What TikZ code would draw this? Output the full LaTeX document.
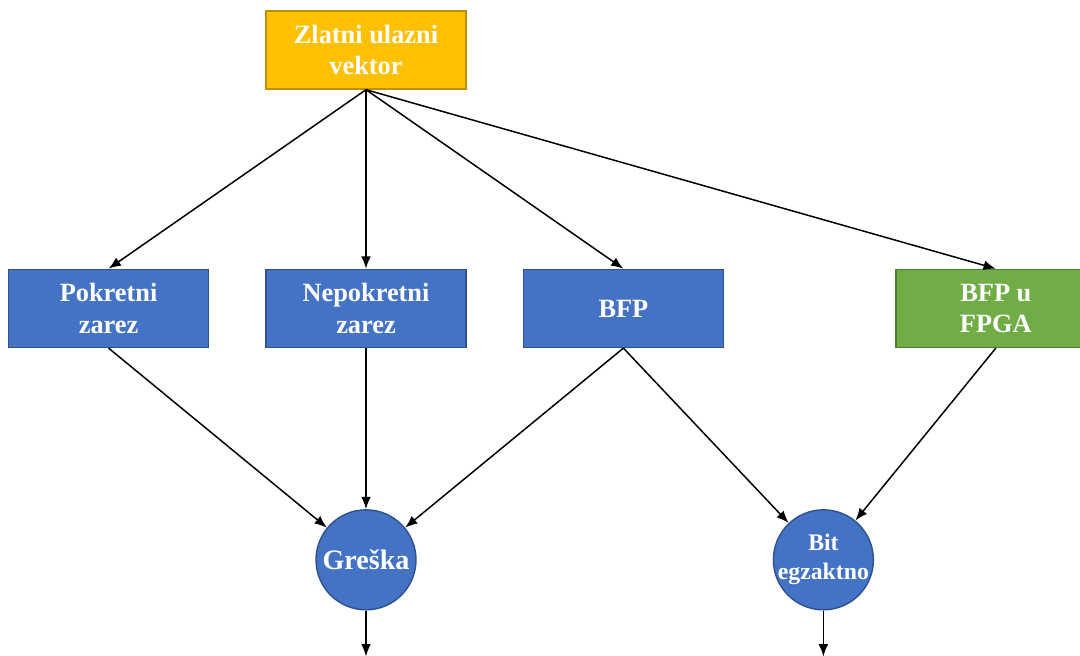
\documentclass[tikz,border=0pt]{standalone}
\usepackage{fontspec}
\setmainfont{Liberation Serif}
\usepackage{xcolor}
\usetikzlibrary{positioning,arrows.meta}

\definecolor{boxblue}{HTML}{4472C4}
\definecolor{edgeblue}{HTML}{2F528F}
\definecolor{boxgold}{HTML}{FFC000}
\definecolor{edgegold}{HTML}{BF9000}
\definecolor{boxgreen}{HTML}{70AD47}
\definecolor{edgegreen}{HTML}{507E32}

\begin{document}
\begin{tikzpicture}[
		every node/.style={font=\fontsize{15}{18}\selectfont\bfseries, text=white},
		block/.style={
				draw,
				rectangle,
				minimum width=4cm,
				minimum height=1.56cm,
				align=center,
				line width=0.8pt
			},
		result/.style={
				draw,
				circle,
				minimum size=2cm,
				inner sep=-8pt,
				align=center,
				line width=0.8pt,
				fill=boxblue,
				draw=edgeblue,
				font=\fontsize{13.5}{16.5}\selectfont\bfseries
			},
		arrow/.style={-{Latex[length=7pt,width=5.5pt]}, line width=0.85pt}
	]
	\useasboundingbox (0,0) rectangle (21.6,-13.1);

	% Golden input vector
	\node[block, fill=boxgold, draw=edgegold] (ulaz) at (7.32,-1.0) {Zlatni ulazni\\vektor};

	% Arithmetic variants - one row
	\node[block, fill=boxblue, draw=edgeblue, below=3.58cm of ulaz] (nepokretni) {Nepokretni\\zarez};
	\node[block, fill=boxblue, draw=edgeblue, left=1.12cm of nepokretni] (pokretni) {Pokretni\\zarez};
	\node[block, fill=boxblue, draw=edgeblue, right=1.12cm of nepokretni] (bfp) {BFP};
	\node[block, fill=boxgreen, draw=edgegreen, right=3.42cm of bfp] (fpga) {BFP u\\FPGA};

	% Comparison results
	\node[result, font=\fontsize{16}{19}\selectfont\bfseries, below=3.22cm of nepokretni] (greska) {Greška};
	\node[result, right=7.12cm of greska] (bit) {Bit\\egzaktno};

	% Outputs leave the picture
	\coordinate (greskaout) at ([yshift=-0.92cm]greska.south);
	\coordinate (bitout) at ([yshift=-0.92cm]bit.south);

	% Input fans out
	\foreach \dst in {pokretni, nepokretni, bfp, fpga} {
			\draw[arrow] (ulaz.south) -- (\dst.north);
		}

	% Into the results
	\foreach \src/\dst in {pokretni/greska, bfp/greska, bfp/bit, fpga/bit} {
			\draw[arrow] (\src.south) -- (\dst);
		}
	\draw[arrow] (nepokretni.south) -- (greska.north);

	\draw[arrow] (greska.south) -- (greskaout);
	\draw[arrow] (bit.south) -- (bitout);
\end{tikzpicture}
\end{document}
